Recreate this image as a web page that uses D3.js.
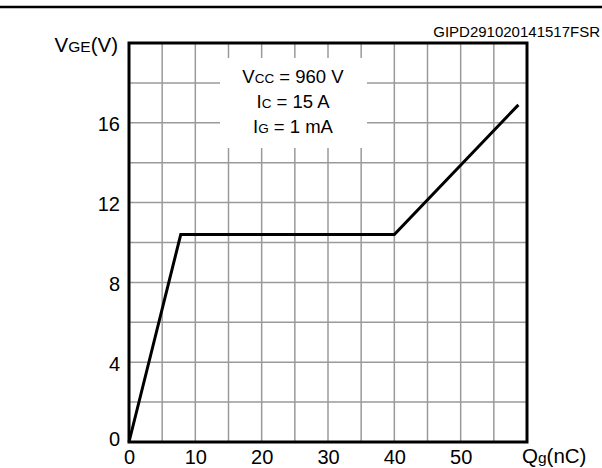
<!DOCTYPE html>
<html><head><meta charset="utf-8">
<script src="https://cdn.jsdelivr.net/npm/d3@7"></script>
<style>body{margin:0;background:#fff}svg{display:block;font-family:"Liberation Sans",Arial,sans-serif}</style>
</head><body>
<svg id="c" width="602" height="468"></svg>
<script>
const qg = [0, 7.8, 40, 58.7];
const vge = [0, 10.4, 10.4, 16.9];
const xTickLabels = [0, 10, 20, 30, 40, 50];
const yTickLabels = [0, 4, 8, 12, 16];
const xGrid = d3.range(5, 60, 5);
const yGrid = d3.range(2, 20, 2);
const conditions = [["V", "CC", " = 960 V"], ["I", "C", " = 15 A"], ["I", "G", " = 1 mA"]];
const figId = "GIPD291020141517FSR";

const svg = d3.select("#c");
const x = d3.scaleLinear().domain([0, 60]).range([129, 527]);
const y = d3.scaleLinear().domain([0, 20]).range([442, 43]);

// top rule
svg.append("line").attr("x1", 0).attr("x2", 602).attr("y1", 7).attr("y2", 7)
  .attr("stroke", "#000").attr("stroke-width", 2.5);

// grid
const g = svg.append("g");
g.selectAll(".vg").data(xGrid).join("line")
  .attr("x1", d => x(d)).attr("x2", d => x(d)).attr("y1", y(0)).attr("y2", y(20))
  .attr("stroke", "#9a9a9a").attr("stroke-width", 1.5);
g.selectAll(".hg").data(yGrid).join("line")
  .attr("x1", x(0)).attr("x2", x(60)).attr("y1", d => y(d)).attr("y2", d => y(d))
  .attr("stroke", "#9a9a9a").attr("stroke-width", 1.5);

// condition box
svg.append("rect").attr("x", 220).attr("y", 58).attr("width", 147).attr("height", 90).attr("fill", "#fff");
conditions.forEach((c, i) => {
  const t = svg.append("text").attr("x", 293).attr("y", 83 + i * 25).attr("text-anchor", "middle").attr("font-size", 18.5).attr("fill", "#000");
  t.append("tspan").text(c[0]);
  t.append("tspan").attr("font-size", 13.5).text(c[1]);
  t.append("tspan").text(c[2]);
});

// curve
svg.append("path").datum(qg.map((q, i) => [q, vge[i]]))
  .attr("d", d3.line().x(d => x(d[0])).y(d => y(d[1])))
  .attr("fill", "none").attr("stroke", "#000").attr("stroke-width", 3).attr("stroke-linejoin", "miter");

// frame
svg.append("rect").attr("x", x(0)).attr("y", y(20)).attr("width", x(60) - x(0)).attr("height", y(0) - y(20))
  .attr("fill", "none").attr("stroke", "#000").attr("stroke-width", 3);

// axes labels
const xa = svg.append("g").attr("transform", `translate(0,${y(0)})`)
  .call(d3.axisBottom(x).tickValues(xTickLabels).tickSize(0).tickPadding(8).tickFormat(d3.format("d")));
xa.select(".domain").remove();
xa.selectAll("text").attr("font-size", 20).attr("font-family", "Liberation Sans, Arial, sans-serif").attr("fill", "#000");

const ya = svg.append("g").attr("transform", `translate(${x(0)},0)`)
  .call(d3.axisLeft(y).tickValues(yTickLabels).tickSize(0).tickPadding(9).tickFormat(d3.format("d")));
ya.select(".domain").remove();
ya.selectAll("text").attr("font-size", 20).attr("font-family", "Liberation Sans, Arial, sans-serif").attr("fill", "#000")
  .attr("dy", d => d === 0 ? "0.15em" : "0.4em");

// axis titles
const yt = svg.append("text").attr("x", 118).attr("y", 52).attr("text-anchor", "end").attr("font-size", 20.5);
yt.append("tspan").text("V");
yt.append("tspan").attr("font-size", 15.5).text("GE");
yt.append("tspan").text("(V)");

const xt = svg.append("text").attr("x", 522).attr("y", 463).attr("font-size", 20.5);
xt.append("tspan").text("Q");
xt.append("tspan").attr("font-size", 15.5).text("g");
xt.append("tspan").text("(nC)");

svg.append("text").attr("x", 600).attr("y", 37).attr("text-anchor", "end").attr("font-size", 15).text(figId);
</script>
</body></html>
